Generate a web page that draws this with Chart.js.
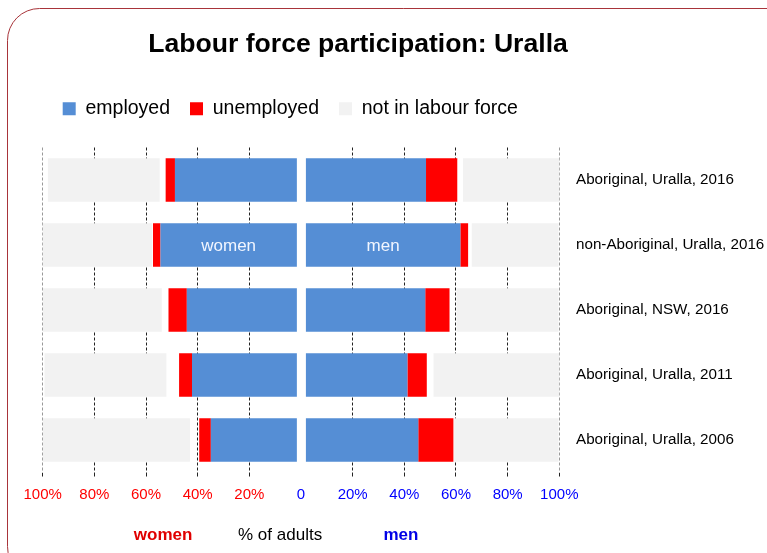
<!DOCTYPE html>
<html>
<head>
<meta charset="utf-8">
<script src="https://cdn.jsdelivr.net/npm/chart.js@4.4.1/dist/chart.umd.min.js"></script>
<style>
  html, body { margin: 0; padding: 0; background: #fff; overflow: hidden; }
  canvas { display: block; }
</style>
</head>
<body>
<canvas id="lfpChart" width="767" height="553"></canvas>
<script>
// rows, top to bottom
const categories = [
  'Aboriginal, Uralla, 2016',
  'non-Aboriginal, Uralla, 2016',
  'Aboriginal, NSW, 2016',
  'Aboriginal, Uralla, 2011',
  'Aboriginal, Uralla, 2006'
];

// % of adults, women
const womenEmployed   = [47.2, 52.8, 42.6, 40.6, 33.3];
const womenUnemployed = [3.6, 2.9, 7.1, 5.0, 4.5];
const womenNotStated  = [2.3, 0.4, 2.6, 4.9, 3.6];
const womenNotInLF    = [43.3, 42.5, 46.1, 47.2, 57.0];

// % of adults, men
const menEmployed   = [46.5, 59.8, 46.2, 39.3, 43.5];
const menUnemployed = [12.1, 3.0, 9.4, 7.5, 13.6];
const menNotStated  = [2.2, 1.4, 2.7, 2.6, 0.3];
const menNotInLF    = [38.4, 33.6, 39.5, 49.8, 40.4];

// blank strip either side of 0 so the two halves stand apart
const womenSpacer = [1.6, 1.6, 1.6, 1.6, 1.6];
const menSpacer   = [1.9, 1.9, 1.9, 1.9, 1.9];

const xTicks = [-100, -80, -60, -40, -20, 0, 20, 40, 60, 80, 100];

const FONT = '"Liberation Sans", Arial, sans-serif';
const BLUE = '#558ed5';
const RED = '#ff0000';
const GREY = '#f2f2f2';
const NONE = 'rgba(0,0,0,0)';

function seg(label, values, color, sign) {
  return {
    label: label,
    data: values.map(v => v * sign),
    backgroundColor: color,
    borderWidth: 0,
    barPercentage: 0.668,
    categoryPercentage: 1
  };
}

const datasets = [
  seg('spacer', womenSpacer, NONE, -1),
  seg('employed', womenEmployed, BLUE, -1),
  seg('unemployed', womenUnemployed, RED, -1),
  seg('not stated', womenNotStated, NONE, -1),
  seg('not in labour force', womenNotInLF, GREY, -1),
  seg('spacer', menSpacer, NONE, 1),
  seg('employed', menEmployed, BLUE, 1),
  seg('unemployed', menUnemployed, RED, 1),
  seg('not stated', menNotStated, NONE, 1),
  seg('not in labour force', menNotInLF, GREY, 1)
];

// rounded frame, white background and the title
const framePlugin = {
  id: 'frame',
  beforeDraw(chart) {
    const ctx = chart.ctx;
    ctx.save();
    ctx.fillStyle = '#fff';
    ctx.fillRect(0, 0, chart.width, chart.height);
    ctx.strokeStyle = '#a8343a';
    ctx.lineWidth = 1;
    ctx.beginPath();
    ctx.roundRect(7.5, 8.5, 800, 570, 32);
    ctx.stroke();

    ctx.fillStyle = '#000';
    ctx.font = 'bold 26.6px ' + FONT;
    ctx.textAlign = 'center';
    ctx.textBaseline = 'middle';
    ctx.fillText('Labour force participation: Uralla', 358, 45);
    ctx.restore();
  }
};

// "women"/"men" inside the bars and the captions under the axis
const notesPlugin = {
  id: 'notes',
  afterDatasetsDraw(chart) {
    const ctx = chart.ctx;
    const xs = chart.scales.x;
    ctx.save();
    ctx.textAlign = 'center';
    ctx.textBaseline = 'middle';
    ctx.font = '17px ' + FONT;
    ctx.fillStyle = '#f2f6ff';
    [[1, 'women'], [6, 'men']].forEach(([di, txt]) => {
      const bar = chart.getDatasetMeta(di).data[1];
      ctx.fillText(txt, (bar.x + bar.base) / 2, bar.y + 1.5);
    });

    const yb = chart.chartArea.bottom + 62.5;
    ctx.font = 'bold 17px ' + FONT;
    ctx.fillStyle = '#e00000';
    ctx.fillText('women', xs.getPixelForValue(-53.4), yb);
    ctx.fillStyle = '#0000e6';
    ctx.fillText('men', xs.getPixelForValue(38.7), yb);
    ctx.font = '17px ' + FONT;
    ctx.fillStyle = '#000';
    ctx.fillText('% of adults', xs.getPixelForValue(-8.1), yb);
    ctx.restore();
  }
};

const ctxEl = document.getElementById('lfpChart');

new Chart(ctxEl, {
  type: 'bar',
  data: {
    labels: categories,
    datasets: datasets
  },
  options: {
    indexAxis: 'y',
    responsive: false,
    animation: false,
    layout: {
      padding: { left: 42.7, right: 0, top: 79, bottom: 40.5 }
    },
    scales: {
      x: {
        type: 'linear',
        stacked: true,
        min: -100,
        max: 100,
        afterBuildTicks(scale) {
          scale.ticks = xTicks.map(v => ({ value: v }));
        },
        afterFit(scale) { scale.height = 40; },
        grid: {
          color: c => (c.tick && c.tick.value === 0) ? NONE
            : (c.tick && Math.abs(c.tick.value) === 100) ? '#999' : '#222',
          lineWidth: 1,
          drawTicks: true,
          tickLength: 4,
          tickColor: c => (c.tick && c.tick.value === 0) ? NONE : '#222'
        },
        border: { display: false, dash: [3, 2] },
        ticks: {
          autoSkip: false,
          maxRotation: 0,
          padding: 9,
          font: { family: FONT, size: 15 },
          color: c => c.tick.value < 0 ? '#ff0000' : '#0000ff',
          callback: v => v === 0 ? '0' : Math.abs(v) + '%'
        }
      },
      x2: {
        type: 'linear',
        position: 'top',
        min: -100,
        max: 100,
        afterFit(scale) { scale.height = 19; },
        grid: { display: false, drawTicks: false },
        border: { display: false },
        ticks: { display: false }
      },
      y: {
        stacked: true,
        position: 'right',
        afterFit(scale) { scale.width = 767 - 559.3; },
        grid: { display: false, drawTicks: false },
        border: { display: false },
        ticks: {
          padding: 16.7,
          color: '#000',
          font: { family: FONT, size: 15.2 }
        }
      }
    },
    plugins: {
      legend: {
        display: true,
        position: 'top',
        align: 'start',
        labels: {
          boxWidth: 13,
          boxHeight: 13,
          padding: 20,
          color: '#000',
          font: { family: FONT, size: 19.5 },
          filter: (item) => item.datasetIndex >= 1 && item.datasetIndex <= 4 && item.datasetIndex !== 3
        }
      },
      tooltip: { enabled: false }
    }
  },
  plugins: [framePlugin, notesPlugin]
});
</script>
</body>
</html>
